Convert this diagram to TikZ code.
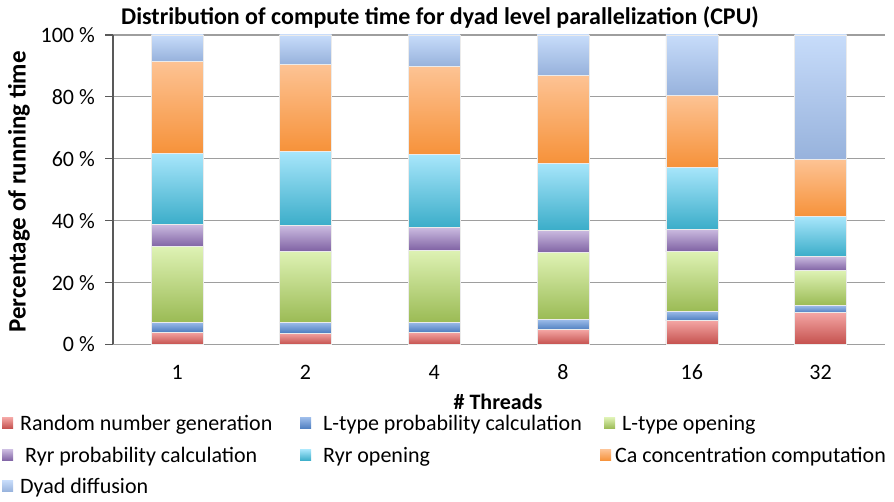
\documentclass[tikz,border=0pt]{standalone}
\usepackage{fontspec}
\setmainfont{Carlito}
\begin{document}
\begin{tikzpicture}[x=1pt,y=1pt,
  ticklabel/.style={font=\fontsize{22}{26}\selectfont, inner sep=0pt},
  legtext/.style={font=\fontsize{22}{26}\selectfont, anchor=west, inner sep=0pt},
  axtitle/.style={font=\fontsize{22}{26}\selectfont\bfseries, inner sep=0pt},
  grid/.style={draw=black!38, line width=1.1pt},
  baraxis/.style={draw=black!65, line width=1.1pt},
  seg/.style={draw=black!8, line width=0.4pt}]
\definecolor{redT}{HTML}{F4A6A4}\definecolor{redB}{HTML}{C4504D}
\definecolor{bluT}{HTML}{9DBCEA}\definecolor{bluB}{HTML}{4F7FC0}
\definecolor{grnT}{HTML}{DEF2B4}\definecolor{grnB}{HTML}{9BBB55}
\definecolor{purT}{HTML}{CBBBE0}\definecolor{purB}{HTML}{8063A4}
\definecolor{cyaT}{HTML}{A8E6FB}\definecolor{cyaB}{HTML}{3BADC9}
\definecolor{oraT}{HTML}{FDC394}\definecolor{oraB}{HTML}{F6923A}
\definecolor{dyaT}{HTML}{C7DCFA}\definecolor{dyaB}{HTML}{97B2DC}

\useasboundingbox (0,0) rectangle (894,502);

% title
\node[axtitle, font=\fontsize{24}{28}\selectfont\bfseries] (title) at (440,485) {Distribution of compute time for dyad level parallelization (CPU)};

% plot area: x in pt, y in percent
\begin{scope}[shift={(0,157.5)}, y=3.095pt]
  % gridlines
  \foreach \p in {20,40,60,80,100}
    \draw[grid] (113,\p) -- (885,\p);
  \draw[grid] (113,0) -- (885,0);
  % stacked bars: cumulative tops of the seven segments
  \foreach \cx/\a/\b/\c/\d/\e/\f [count=\i] in {
      177.3/4.1/7.3/31.6/38.8/61.7/91.6,
      305.5/3.8/7.2/30.2/38.4/62.5/90.6,
      434.2/4.1/7.3/30.5/37.8/61.4/89.8,
      563.0/4.8/8.1/29.7/37.0/58.7/87.1,
      691.8/7.8/10.8/30.2/37.3/57.4/80.6,
      820.5/10.3/12.6/23.9/28.5/41.4/59.8}{
    \foreach \lo/\hi/\ct/\cb in {0/\a/redT/redB, \a/\b/bluT/bluB, \b/\c/grnT/grnB,
        \c/\d/purT/purB, \d/\e/cyaT/cyaB, \e/\f/oraT/oraB, \f/100/dyaT/dyaB}
      \path[seg, top color=\ct, bottom color=\cb] (\cx-26,\lo) rectangle (\cx+26,\hi);
  }
  % y axis and ticks
  \draw[baraxis] (113,0) -- (113,100);
  \foreach \p in {0,20,40,60,80,100}
    \draw[baraxis] (105,\p) -- (113,\p);
  \foreach \p/\nm in {0/t0,20/t20,40/t40,60/t60,80/t80,100/t100}
    \node[ticklabel, anchor=east] (\nm) at (95,\p) {\p\ \%};
\end{scope}

% x tick labels
\foreach \cx/\lab/\nm in {177.3/1/x1,305.5/2/x2,434.2/4/x4,563.0/8/x8,691.8/16/x16,820.5/32/x32}
  \node[ticklabel] (\nm) at (\cx,130) {\lab};

% axis titles
\node[axtitle] (xtitle) at (498,100) {\# Threads};
\node[axtitle, rotate=90, font=\fontsize{25}{29}\selectfont\bfseries] (ytitle) at (19,310) {Percentage of running time};

% legend
\foreach \x/\y/\ct/\cb/\nm in {2/79/redT/redB/k1, 300/79/bluT/bluB/k2, 604/79/grnT/grnB/k3,
    2/47/purT/purB/k4, 300/47/cyaT/cyaB/k5, 600/47/oraT/oraB/k6, 2/16/dyaT/dyaB/k7}
  \path[top color=\ct, bottom color=\cb] (\x,\y-5.5) rectangle ++(11,11) coordinate (\nm);
\node[legtext] (l1) at (20,77) {Random number generation};
\node[legtext] (l2) at (323,77) {L-type probability calculation};
\node[legtext] (l3) at (622,77) {L-type opening};
\node[legtext] (l4) at (25,45) {Ryr probability calculation};
\node[legtext] (l5) at (323,45) {Ryr opening};
\node[legtext] (l6) at (615,45) {Ca concentration computation};
\node[legtext] (l7) at (20,14) {Dyad diffusion};
\end{tikzpicture}
\end{document}
